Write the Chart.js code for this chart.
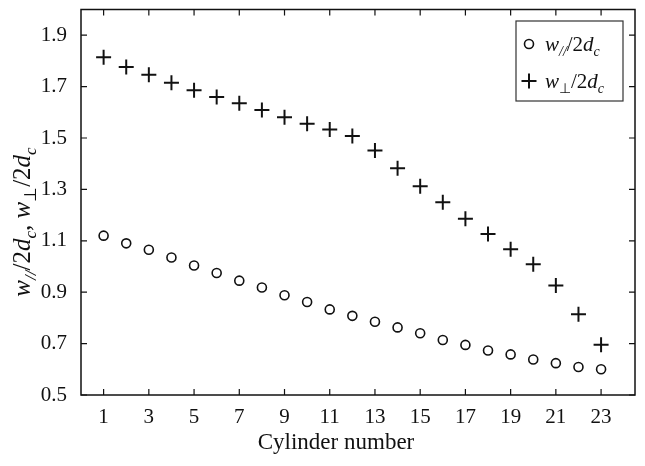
<!DOCTYPE html>
<html>
<head>
<meta charset="utf-8">
<script src="https://cdn.jsdelivr.net/npm/chart.js@4.4.0/dist/chart.umd.min.js"></script>
<style>
  html, body { margin: 0; padding: 0; background: #fff; overflow: hidden; }
  #wrap { width: 645px; height: 466px; }
</style>
</head>
<body>
<div id="wrap"><canvas id="cylChart" width="645" height="466"></canvas></div>
<script>
const cylinders = [1, 2, 3, 4, 5, 6, 7, 8, 9, 10, 11, 12, 13, 14, 15, 16, 17, 18, 19, 20, 21, 22, 23];
const wParallel = [1.12, 1.09, 1.065, 1.035, 1.004, 0.975, 0.945, 0.918, 0.888, 0.862, 0.833, 0.808,
                   0.785, 0.763, 0.740, 0.714, 0.695, 0.673, 0.658, 0.638, 0.624, 0.609, 0.600];
const wPerp = [1.814, 1.776, 1.746, 1.715, 1.686, 1.660, 1.635, 1.609, 1.581, 1.555, 1.533, 1.508,
               1.451, 1.382, 1.312, 1.250, 1.186, 1.126, 1.067, 1.009, 0.926, 0.814, 0.696];
const xTicks = [1, 3, 5, 7, 9, 11, 13, 15, 17, 19, 21, 23];
const yTicks = [0.5, 0.7, 0.9, 1.1, 1.3, 1.5, 1.7, 1.9];

const SERIF = '"Liberation Serif", "Times New Roman", serif';
const INK = '#111';

// text made of pieces, for the subscripts
function richWidth(ctx, parts) {
  let w = 0;
  parts.forEach(p => { ctx.font = p.f; w += ctx.measureText(p.t).width; });
  return w;
}
function drawRich(ctx, parts, x, y) {
  let cx = x;
  parts.forEach(p => {
    ctx.font = p.f;
    ctx.fillText(p.t, cx, y + (p.dy || 0));
    cx += ctx.measureText(p.t).width;
  });
}
function labelParts(size, subSize, subSym, subItalic) {
  const it = 'italic ' + size + 'px ' + SERIF;
  const up = size + 'px ' + SERIF;
  const sIt = 'italic ' + subSize + 'px ' + SERIF;
  const sUp = subSize + 'px ' + SERIF;
  const d = Math.round(size * 0.22);
  return [
    { t: 'w', f: it },
    { t: subSym, f: subItalic ? sIt : sUp, dy: d },
    { t: '/2', f: up },
    { t: 'd', f: it },
    { t: 'c', f: sIt, dy: d }
  ];
}

const framePlugin = {
  id: 'frame',
  afterDraw(chart) {
    const ctx = chart.ctx;
    const a = chart.chartArea;
    const xs = chart.scales.x, ys = chart.scales.y;
    ctx.save();
    ctx.strokeStyle = INK;
    ctx.lineWidth = 1.5;
    ctx.strokeRect(a.left, a.top, a.right - a.left, a.bottom - a.top);
    ctx.lineWidth = 1.2;
    ctx.beginPath();
    xTicks.forEach(v => {
      const px = xs.getPixelForValue(v);
      ctx.moveTo(px, a.bottom); ctx.lineTo(px, a.bottom - 6);
      ctx.moveTo(px, a.top); ctx.lineTo(px, a.top + 6);
    });
    yTicks.forEach(v => {
      const py = ys.getPixelForValue(v);
      ctx.moveTo(a.left, py); ctx.lineTo(a.left + 6, py);
      ctx.moveTo(a.right, py); ctx.lineTo(a.right - 6, py);
    });
    ctx.stroke();

    ctx.fillStyle = INK;
    ctx.textBaseline = 'alphabetic';
    ctx.textAlign = 'left';

    // x axis title
    ctx.font = '23px ' + SERIF;
    const xt = 'Cylinder number';
    ctx.fillText(xt, 336 - ctx.measureText(xt).width / 2, 449);

    // y axis title, rotated
    const title = labelParts(25, 17, '//', true)
      .concat([{ t: ', ', f: '25px ' + SERIF }])
      .concat(labelParts(25, 17, '\u22A5', false));
    const tw = richWidth(ctx, title);
    ctx.save();
    ctx.translate(30, 222);
    ctx.rotate(-Math.PI / 2);
    drawRich(ctx, title, -tw / 2, 0);
    ctx.restore();

    // legend box
    ctx.lineWidth = 1.2;
    ctx.strokeStyle = '#333';
    ctx.strokeRect(516, 21, 107, 80);
    ctx.strokeStyle = INK;
    ctx.lineWidth = 1.6;
    ctx.beginPath();
    ctx.arc(529, 44, 4.5, 0, Math.PI * 2);
    ctx.stroke();
    ctx.lineWidth = 2;
    ctx.beginPath();
    ctx.moveTo(521.5, 81); ctx.lineTo(536.5, 81);
    ctx.moveTo(529, 73.5); ctx.lineTo(529, 88.5);
    ctx.stroke();
    drawRich(ctx, labelParts(21, 14, '//', true), 545, 51);
    drawRich(ctx, labelParts(21, 14, '\u22A5', false), 545, 88);
    ctx.restore();
  }
};

const ctx = document.getElementById('cylChart').getContext('2d');
const chart = new Chart(ctx, {
  type: 'scatter',
  data: {
    datasets: [
      {
        label: 'w///2dc',
        data: cylinders.map((c, i) => ({ x: c, y: wParallel[i] })),
        pointStyle: 'circle',
        pointRadius: 4.5,
        pointHoverRadius: 4.5,
        borderWidth: 1.6,
        borderColor: INK,
        backgroundColor: 'rgba(0,0,0,0)'
      },
      {
        label: 'w⊥/2dc',
        data: cylinders.map((c, i) => ({ x: c, y: wPerp[i] })),
        pointStyle: 'cross',
        pointRadius: 7.5,
        pointHoverRadius: 7.5,
        borderWidth: 2,
        borderColor: INK,
        backgroundColor: INK
      }
    ]
  },
  options: {
    responsive: false,
    animation: false,
    layout: { padding: { top: 4, right: 10, left: 0, bottom: 0 } },
    plugins: {
      legend: { display: false },
      tooltip: { enabled: false }
    },
    scales: {
      x: {
        type: 'linear',
        min: 0,
        max: 24.5,
        afterBuildTicks: s => { s.ticks = xTicks.map(v => ({ value: v })); },
        afterFit: s => { s.height = 71; s.paddingLeft = 0; s.paddingRight = 0; },
        grid: { display: false, drawTicks: false },
        border: { display: false },
        ticks: {
          autoSkip: false,
          maxRotation: 0,
          padding: 10,
          color: INK,
          font: { family: SERIF, size: 21 },
          callback: v => String(v)
        }
      },
      y: {
        type: 'linear',
        min: 0.5,
        max: 2.0,
        afterBuildTicks: s => { s.ticks = yTicks.map(v => ({ value: v })); },
        afterFit: s => { s.width = 81; s.paddingTop = 0; s.paddingBottom = 0; },
        grid: { display: false, drawTicks: false },
        border: { display: false },
        ticks: {
          padding: 14,
          color: INK,
          font: { family: SERIF, size: 21 },
          callback: v => Number(v).toFixed(1)
        }
      }
    }
  },
  plugins: [framePlugin]
});
</script>
</body>
</html>
